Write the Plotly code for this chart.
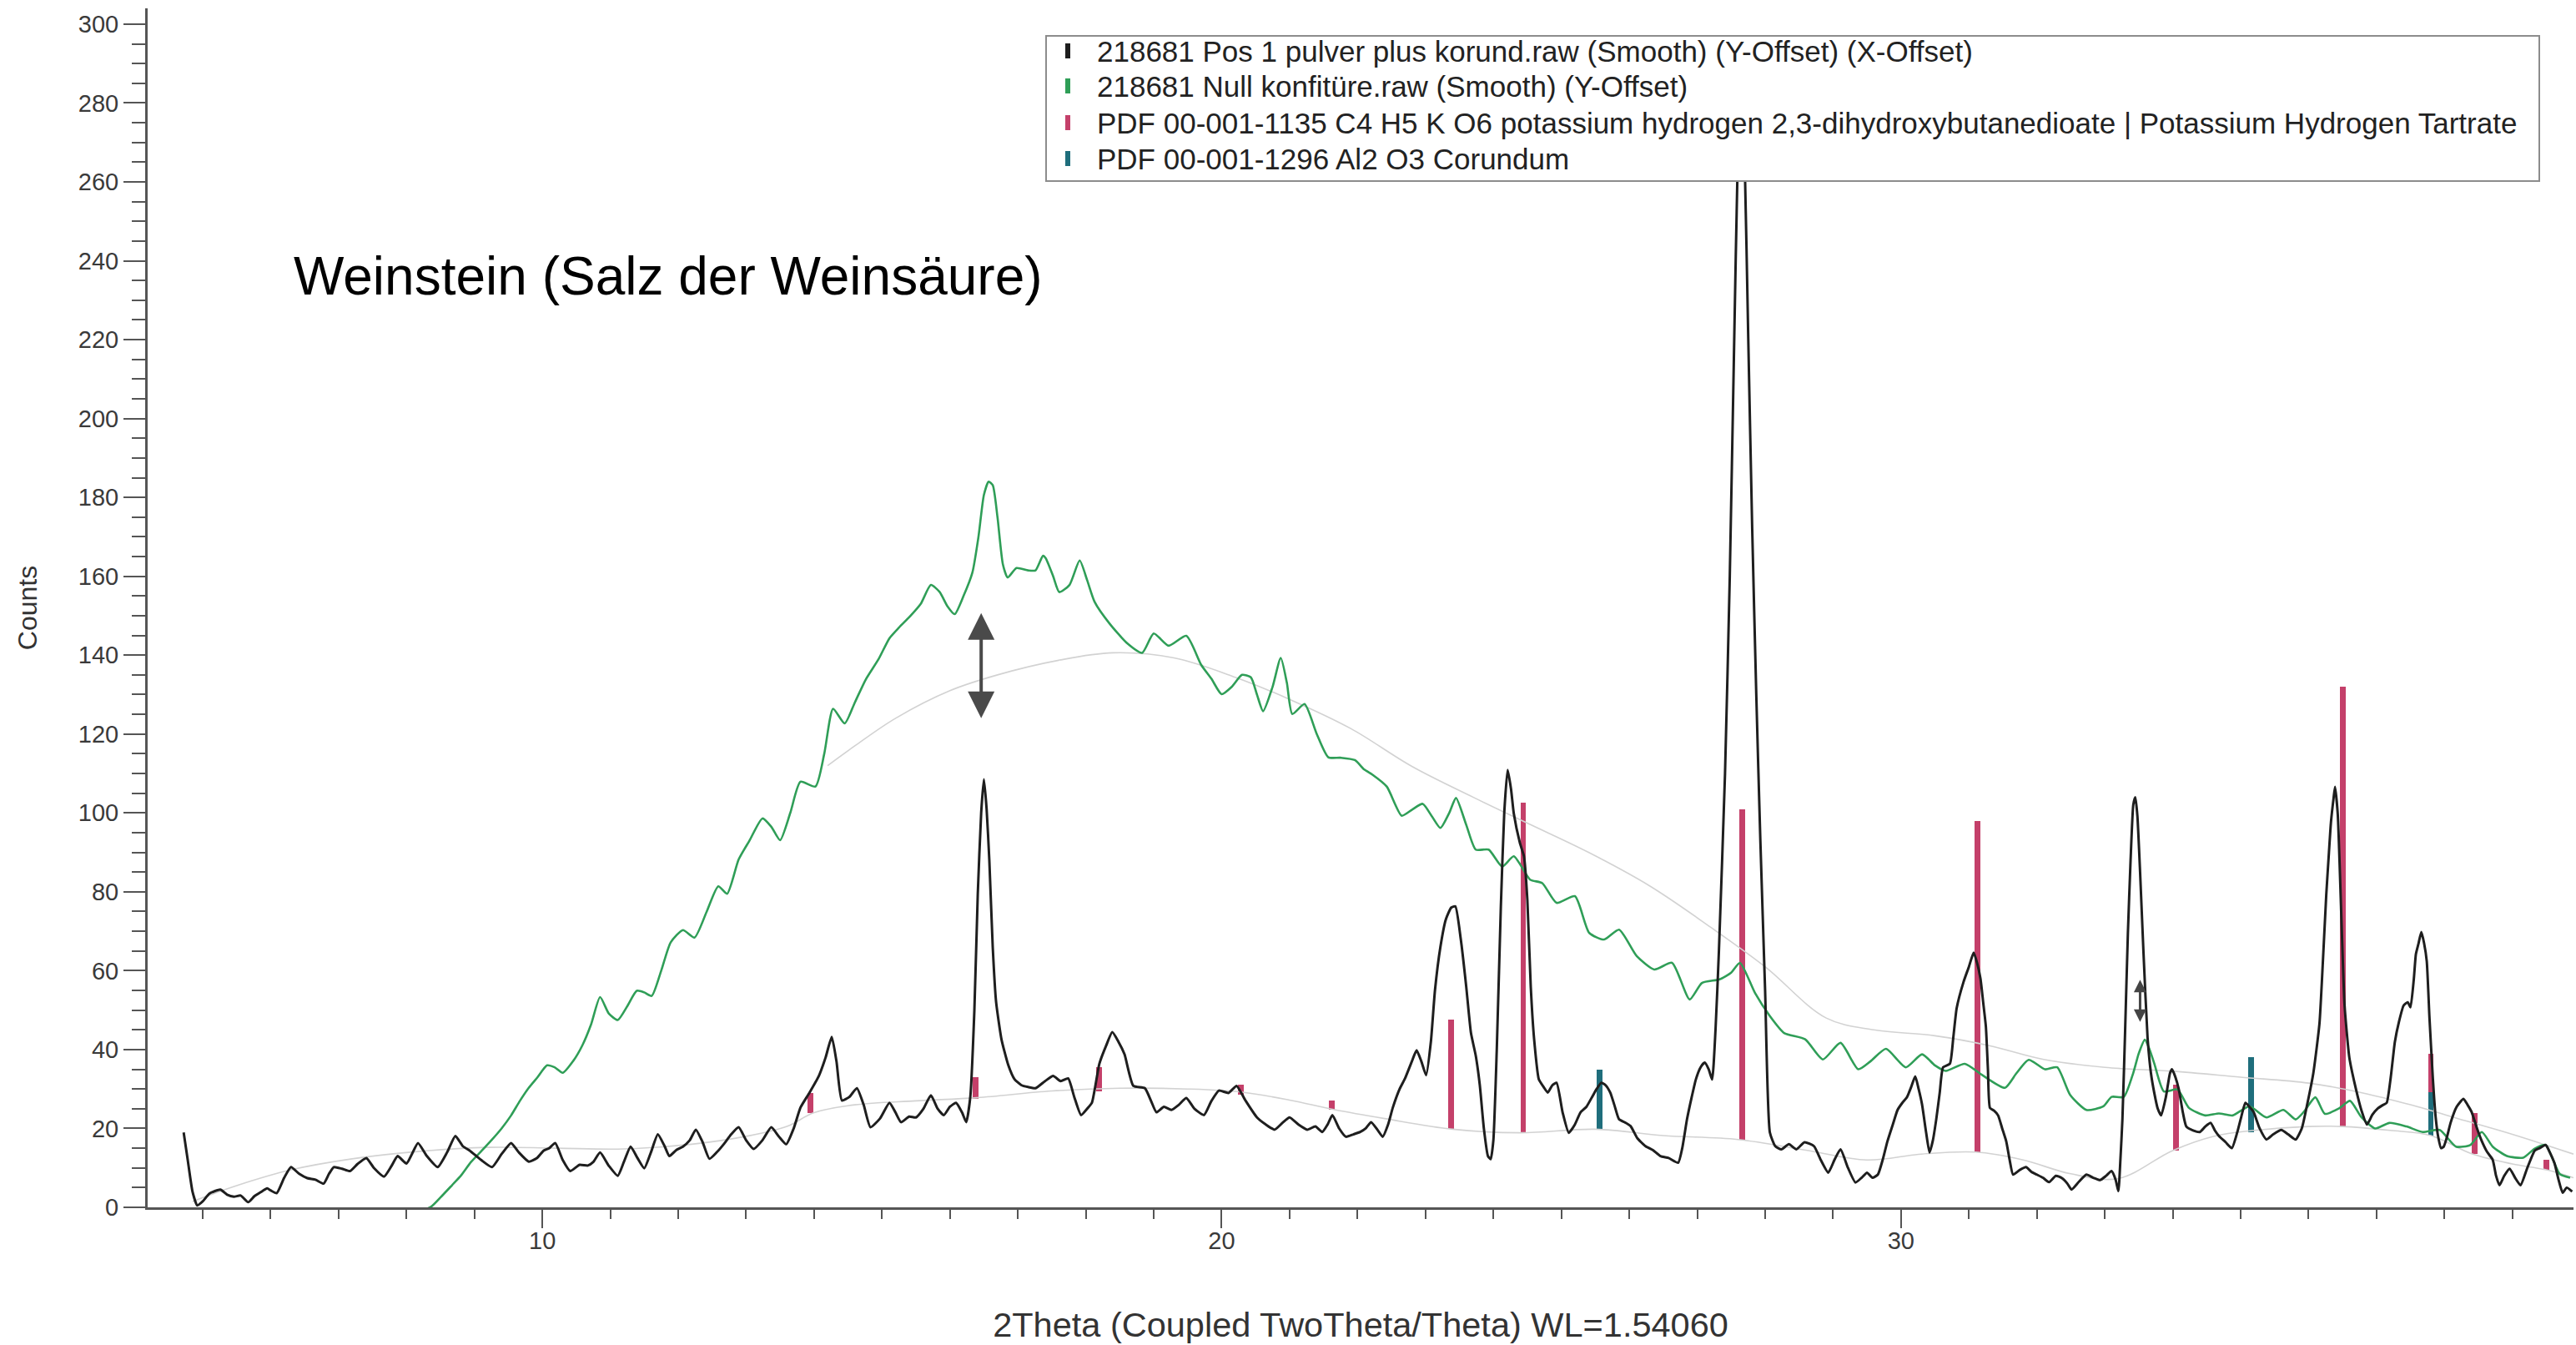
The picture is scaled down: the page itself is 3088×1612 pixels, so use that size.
import plotly.graph_objects as go

# ---- measured pattern: "Pos 1 pulver plus korund" (2Theta in degrees, counts) ----
black_2theta = [
    4.72, 4.78, 4.85, 4.92, 5.0, 5.1, 5.26, 5.36, 5.46, 5.56, 5.67, 5.76, 5.85, 5.95, 6.0, 6.09, 6.2, 6.30,
    6.42, 6.54, 6.66, 6.78, 6.86, 6.93, 7.05, 7.17, 7.28, 7.41, 7.52, 7.67, 7.78, 7.87, 8.0, 8.08, 8.17,
    8.30, 8.46, 8.60, 8.72, 8.83, 8.93, 9.10, 9.26, 9.40, 9.54, 9.65, 9.80, 9.92, 10.02, 10.10, 10.19,
    10.30, 10.41, 10.55, 10.67, 10.75, 10.85, 10.98, 11.11, 11.20, 11.30, 11.40, 11.50, 11.60, 11.70,
    11.80, 11.87, 11.97, 12.07, 12.17, 12.26, 12.36, 12.46, 12.57, 12.67, 12.78, 12.89, 13.00, 13.11,
    13.24, 13.37, 13.48, 13.59, 13.70, 13.80, 13.93, 14.07, 14.17, 14.26, 14.33, 14.41, 14.52, 14.63,
    14.73, 14.83, 14.97, 15.11, 15.20, 15.28, 15.40, 15.50, 15.61, 15.72, 15.82, 15.91, 16.00, 16.09,
    16.18, 16.24, 16.30, 16.36, 16.41, 16.46, 16.50, 16.54, 16.58, 16.63, 16.68, 16.76, 16.86, 16.95,
    17.05, 17.15, 17.26, 17.40, 17.52, 17.63, 17.74, 17.83, 17.93, 18.02, 18.09, 18.20, 18.30, 18.39,
    18.48, 18.57, 18.70, 18.87, 18.96, 19.04, 19.15, 19.26, 19.37, 19.48, 19.60, 19.74, 19.85, 19.96,
    20.10, 20.22, 20.35, 20.52, 20.65, 20.78, 20.90, 21.00, 21.13, 21.26, 21.38, 21.48, 21.56, 21.63,
    21.73, 21.83, 21.94, 22.04, 22.12, 22.20, 22.30, 22.37, 22.45, 22.52, 22.62, 22.70, 22.80, 22.87,
    22.94, 23.01, 23.08, 23.14, 23.22, 23.30, 23.38, 23.44, 23.52, 23.60, 23.67, 23.74, 23.80, 23.86,
    23.92, 23.96, 24.00, 24.05, 24.11, 24.16, 24.21, 24.26, 24.30, 24.39, 24.45, 24.50, 24.55, 24.60,
    24.67, 24.74, 24.80, 24.87, 24.93, 25.02, 25.11, 25.20, 25.28, 25.37, 25.46, 25.52, 25.59, 25.65,
    25.72, 25.78, 25.85, 25.94, 26.02, 26.12, 26.24, 26.35, 26.46, 26.58, 26.72, 26.78, 26.85, 26.92,
    26.98, 27.05, 27.11, 27.17, 27.22, 27.27, 27.32, 27.41, 27.48, 27.54, 27.60, 27.65, 27.70, 27.75,
    27.81, 27.87, 27.93, 28.00, 28.07, 28.15, 28.24, 28.35, 28.46, 28.58, 28.72, 28.82, 28.93, 29.02,
    29.11, 29.22, 29.33, 29.42, 29.50, 29.58, 29.66, 29.73, 29.80, 29.88, 29.95, 30.02, 30.09, 30.15,
    30.21, 30.26, 30.31, 30.37, 30.42, 30.47, 30.52, 30.57, 30.62, 30.72, 30.77, 30.82, 30.92, 31.00,
    31.07, 31.12, 31.17, 31.21, 31.25, 31.28, 31.31, 31.37, 31.43, 31.49, 31.55, 31.60, 31.65, 31.75,
    31.84, 31.92, 32.00, 32.09, 32.18, 32.28, 32.37, 32.45, 32.51, 32.62, 32.73, 32.83, 32.93, 33.02,
    33.10, 33.16, 33.20, 33.23, 33.26, 33.30, 33.34, 33.38, 33.42, 33.45, 33.48, 33.52, 33.57, 33.63,
    33.68, 33.73, 33.78, 33.83, 33.90, 33.96, 33.99, 34.04, 34.09, 34.15, 34.20, 34.30, 34.40, 34.48,
    34.56, 34.62, 34.68, 34.78, 34.87, 34.95, 35.01, 35.07, 35.13, 35.19, 35.28, 35.38, 35.48, 35.60,
    35.70, 35.81, 35.90, 35.98, 36.07, 36.16, 36.21, 36.26, 36.30, 36.33, 36.37, 36.39, 36.43, 36.48,
    36.53, 36.60, 36.70, 36.78, 36.86, 36.94, 37.02, 37.10, 37.15, 37.21, 37.27, 37.33, 37.40, 37.46,
    37.50, 37.55, 37.58, 37.62, 37.66, 37.70, 37.74, 37.78, 37.83, 37.87, 37.91, 37.95, 37.99, 38.04,
    38.09, 38.18, 38.28, 38.34, 38.40, 38.48, 38.55, 38.63, 38.71, 38.76, 38.81, 38.88, 38.96, 39.04,
    39.12, 39.22, 39.33, 39.40, 39.49, 39.55, 39.62, 39.68, 39.74, 39.80, 39.88,
]
black_counts = [
    19, 12, 4, 0.5, 1.5, 3.5, 4.5, 3.2, 2.7, 3.0, 1.3, 2.8, 3.8, 4.8, 4.3, 3.6, 7.5, 10.2,
    8.5, 7.4, 7.0, 6.0, 8.5, 10.2, 9.8, 9.2, 11.0, 12.5, 10.0, 7.8, 10.5, 13.0, 11.1, 13.5, 16.3,
    13.0, 10.2, 14.0, 18.1, 15.5, 14.4, 12.0, 10.2, 13.5, 16.3, 14.0, 11.6, 12.5, 14.4, 15.0, 16.3,
    12.0, 9.2, 10.8, 10.6, 11.5, 13.9, 10.5, 8.0, 11.5, 15.4, 12.5, 9.9, 14.0, 18.5,
    15.5, 13.0, 14.5, 15.4, 17.0, 19.7, 16.5, 12.3, 14.0, 16.0, 18.5, 20.3, 17.0, 14.8,
    17.0, 20.3, 18.0, 16.0, 20.0, 25.3, 29.0, 33.3, 38.0, 43.2, 37.0, 27.1, 28.0, 30.2,
    26.0, 20.3, 22.5, 26.5, 24.0, 21.6, 23.0, 22.8, 25.0, 28.4, 25.0, 23.4, 25.5, 26.5,
    24.0, 21.6, 28.0, 50.0, 79.5, 100.0, 108.5, 101.0, 88.0, 66.0, 52.0, 42.5, 36.0, 32.5,
    31.0, 30.5, 30.2, 32.0, 33.3, 32.0, 32.7, 28.0, 23.4, 25.0, 26.5, 36.4, 41.0, 44.4,
    42.0, 38.8, 30.8, 30.2, 27.0, 24.1, 25.5, 24.7, 26.0, 27.7, 25.0, 23.4, 27.0, 29.6,
    29.0, 30.8, 27.1, 22.8, 21.0, 19.7, 21.5, 22.8, 21.0, 19.7, 20.5, 19.1, 21.0, 23.4,
    20.0, 17.9, 18.5, 19.1, 20.0, 21.6, 19.5, 17.9, 21.0, 25.3, 30.0, 32.7, 37.0, 39.8,
    37.0, 33.5, 42.0, 55.0, 66.0, 73.0, 76.0, 76.3, 68.0, 56.0, 44.2, 38.5, 31.0, 20.0,
    13.0, 12.2, 17.0, 40.0, 76.3, 100.0, 110.9, 106.0, 99.9, 92.4, 89.0, 78.0, 56.0, 42.6,
    32.4, 30.5, 29.1, 31.0, 31.6, 24.0, 18.9, 21.0, 24.0, 25.5, 28.2, 30.0, 31.6, 31.0,
    29.1, 26.0, 22.3, 21.5, 20.6, 17.5, 15.5, 14.5, 13.0, 12.5, 11.3, 15.0, 22.3, 28.0,
    32.4, 35.5, 36.7, 35.0, 32.4, 45.0, 65.0, 110.0, 160.0, 215.0, 268.0, 290.0, 265.0, 222.0,
    172.0, 130.0, 93.0, 55.0, 19.0, 15.5, 14.7, 16.0, 14.7, 16.5, 15.5, 12.0, 8.8, 12.0,
    14.7, 10.0, 6.3, 7.5, 8.8, 7.5, 8.3, 12.0, 16.7, 21.0, 24.7, 26.5, 28.0, 30.5,
    33.2, 30.0, 26.1, 19.0, 13.9, 17.0, 22.4, 29.0, 35.5, 36.4, 43.0, 50.5, 57.1, 61.0,
    64.6, 62.0, 58.0, 52.0, 45.8, 35.0, 25.2, 24.5, 23.3, 20.0, 16.7, 12.0, 8.3, 9.5,
    10.2, 9.0, 8.3, 7.5, 6.4, 8.0, 7.4, 6.0, 4.5, 6.5, 8.3, 7.5, 6.9, 8.0,
    9.2, 7.0, 4.1, 12.0, 22.4, 45.0, 69.3, 88.0, 102.1, 104.0, 99.3, 85.0, 64.6, 43.0,
    34.0, 28.9, 25.0, 23.3, 28.0, 34.0, 35.0, 33.0, 29.9, 24.0, 20.5, 19.5, 19.1, 20.5,
    21.4, 19.5, 18.1, 16.5, 15.0, 19.0, 23.0, 26.5, 25.5, 24.2, 20.0, 17.2, 18.5, 19.6,
    18.5, 17.2, 20.0, 26.1, 34.0, 46.5, 62.0, 79.1, 90.0, 97.7, 104.0, 106.6, 99.6, 75.0,
    51.2, 38.0, 29.8, 24.5, 21.0, 23.5, 25.1, 26.0, 26.5, 33.0, 41.9, 47.0, 51.2, 52.0,
    50.7, 58.0, 64.2, 67.0, 69.8, 67.0, 62.4, 48.0, 32.6, 23.0, 17.7, 15.0, 15.4, 18.0,
    21.4, 25.5, 27.5, 26.0, 24.2, 20.0, 16.8, 14.0, 12.1, 8.0, 5.6, 8.0, 9.8, 7.5,
    5.6, 10.0, 14.4, 15.0, 15.8, 14.0, 11.2, 7.0, 3.7, 5.0, 4.0,
]

# ---- measured pattern: "Null konfitüre" ----
green_2theta = [
    7.90, 8.35, 8.50, 8.67, 8.80, 8.95, 9.11, 9.25, 9.40, 9.54, 9.67, 9.80, 9.93, 10.07, 10.18, 10.30,
    10.45, 10.59, 10.72, 10.85, 10.98, 11.11, 11.25, 11.39, 11.50, 11.61, 11.75, 11.89, 12.07, 12.24,
    12.42, 12.59, 12.72, 12.89, 13.05, 13.24, 13.37, 13.50, 13.65, 13.80, 14.02, 14.15, 14.28, 14.45,
    14.60, 14.76, 14.95, 15.11, 15.25, 15.41, 15.57, 15.72, 15.85, 15.96, 16.07, 16.20, 16.33, 16.42,
    16.50, 16.57, 16.63, 16.70, 16.78, 16.85, 16.98, 17.15, 17.26, 17.37, 17.41, 17.52, 17.61, 17.76,
    17.91, 18.02, 18.13, 18.35, 18.61, 18.83, 19.00, 19.22, 19.48, 19.70, 19.85, 20.00, 20.15, 20.30,
    20.43, 20.52, 20.61, 20.75, 20.87, 20.96, 21.04, 21.22, 21.40, 21.57, 21.75, 21.96, 22.10, 22.22,
    22.43, 22.65, 22.80, 22.96, 23.10, 23.22, 23.35, 23.45, 23.60, 23.74, 23.93, 24.13, 24.30, 24.54,
    24.72, 24.93, 25.20, 25.41, 25.63, 25.85, 26.11, 26.37, 26.63, 26.89, 27.07, 27.33, 27.50, 27.63,
    27.85, 28.07, 28.28, 28.59, 28.85, 29.11, 29.37, 29.55, 29.78, 30.07, 30.31, 30.50, 30.66, 30.94,
    31.19, 31.53, 31.70, 31.88, 32.12, 32.30, 32.49, 32.73, 32.98, 33.10, 33.28, 33.42, 33.50, 33.59,
    33.66, 33.73, 33.87, 34.07, 34.24, 34.48, 34.68, 34.88, 35.13, 35.38, 35.63, 35.81, 35.93, 36.10,
    36.24, 36.45, 36.61, 36.78, 36.98, 37.19, 37.44, 37.68, 37.93, 38.17, 38.38, 38.55, 38.71, 38.92,
    39.16, 39.33, 39.49, 39.60, 39.70, 39.85,
]
green_counts = [
    -2.0, 0.0, 2.5, 5.6, 8.0, 11.5, 14.4, 17.0, 20.0, 23.3, 27.0, 30.3, 33.0, 36.0, 35.5, 34.1,
    37.0, 41.1, 46.5, 53.3, 49.1, 47.5, 51.0, 54.9, 54.5, 53.6, 60.0, 67.2, 70.3, 68.4,
    75.0, 81.4, 79.5, 88.2, 93.0, 98.6, 96.5, 93.1, 100.0, 107.9, 106.7, 115.0, 126.4, 122.7,
    128.0, 133.8, 139.0, 144.3, 147.0, 149.8, 153.0, 157.8, 156.0, 152.5, 150.4, 155.0, 160.9, 170.0,
    180.6, 184.0, 183.1, 175.0, 163.0, 159.7, 162.1, 161.5, 161.5, 165.2, 164.6, 160.0, 156.0, 157.8,
    164.0, 159.0, 153.5, 148.0, 143.0, 140.6, 145.5, 142.4, 144.9, 137.5, 134.0, 130.1, 132.0, 135.0,
    134.4, 130.0, 125.8, 132.0, 139.3, 133.0, 125.1, 127.6, 120.0, 114.1, 114.0, 113.4, 111.0, 109.7,
    106.7, 99.3, 100.8, 102.3, 99.0, 96.2, 100.0, 103.8, 97.0, 90.7, 90.7, 86.4, 89.0, 83.1,
    82.2, 77.2, 78.9, 69.6, 67.9, 70.4, 63.7, 60.3, 62.0, 52.7, 56.9, 57.8, 59.5, 62.0,
    54.4, 48.5, 44.2, 42.6, 37.5, 41.7, 35.0, 37.0, 40.2, 35.5, 38.8, 36.0, 34.6, 36.4,
    33.6, 30.3, 34.0, 37.4, 35.0, 35.5, 28.5, 24.7, 25.6, 28.0, 28.0, 34.1, 39.0, 42.5,
    40.0, 36.4, 29.4, 29.9, 25.2, 23.3, 23.8, 23.3, 25.6, 22.8, 24.7, 22.3, 24.2, 27.9,
    23.7, 25.1, 27.0, 22.8, 20.0, 21.4, 20.5, 19.1, 19.6, 15.4, 15.8, 19.1, 15.4, 13.0,
    12.6, 14.9, 15.8, 12.0, 8.4, 7.5,
]

# ---- fitted backgrounds ----
bg_black_2theta = [
    4.85, 5.5, 6.3, 7.2, 8.2, 9.2, 10.2, 11.2, 12.2, 13.0, 13.6, 14.0, 14.6, 15.5, 16.4, 17.5, 18.5,
    19.5, 20.3, 21.0, 21.65, 22.4, 23.4, 24.4, 25.5, 26.5, 27.6, 28.6, 29.5, 30.3, 31.1, 31.8, 32.5,
    33.2, 34.0, 34.6, 35.2, 36.0, 36.5, 37.2, 37.8, 38.4, 39.0, 39.5, 39.9,
]
bg_black_counts = [
    1.5, 5.5, 9.5, 12.3, 14.2, 15.2, 15.0, 14.8, 16.0, 18.0, 20.5, 24.0, 26.0, 27.0, 27.8, 29.5, 30.2,
    30.0, 29.2, 27.2, 24.8, 22.5, 19.8, 18.9, 19.8, 18.2, 17.2, 14.5, 12.0, 13.5, 14.0, 12.0, 8.5,
    7.3, 14.4, 18.0, 19.5, 20.5, 20.5, 19.5, 18.2, 13.6, 11.0, 9.5, 7.5,
]
bg_green_2theta = [
    14.2, 14.6, 15.2, 16.0, 16.7, 17.6, 18.4, 19.3, 20.2, 21.0, 21.9, 22.8, 23.7, 24.5, 25.4, 26.3,
    27.2, 28.0, 28.9, 29.6, 30.5, 31.3, 32.1, 33.0, 34.0, 35.0, 36.0, 36.8, 37.5, 38.3, 39.0, 39.9,
]
bg_green_counts = [
    112.0, 117.0, 124.0, 131.0, 135.0, 138.7, 140.6, 139.3, 134.4, 128.8, 121.4, 111.8, 104.0, 97.4,
    90.0, 81.5, 71.0, 61.0, 48.0, 45.0, 43.5, 41.0, 37.5, 35.5, 34.5, 33.0, 31.5, 29.0, 26.0, 22.0,
    18.5, 13.5,
]

# ---- reference patterns (stick positions, stick foot on background, stick top) ----
tartrate_2theta = [13.95, 16.38, 18.20, 20.28, 21.62, 23.38, 24.44, 27.66, 31.13, 34.05, 36.50, 37.80, 38.45, 39.50]
tartrate_base = [24.0, 27.5, 29.5, 28.5, 24.7, 19.8, 18.9, 17.2, 14.0, 14.4, 20.5, 18.2, 13.5, 9.5]
tartrate_top = [29.0, 33.0, 35.5, 31.0, 27.1, 47.6, 102.5, 101.0, 98.0, 31.0, 132.0, 39.0, 24.0, 12.0]

corundum_2theta = [25.56, 35.15, 37.80]
corundum_base = [19.8, 19.0, 18.2]
corundum_top = [35.0, 38.0, 29.3]

legend_names = [
    "218681 Pos 1 pulver plus korund.raw (Smooth) (Y-Offset) (X-Offset)",
    "218681 Null konfitüre.raw (Smooth) (Y-Offset)",
    "PDF 00-001-1135 C4 H5 K O6 potassium hydrogen 2,3-dihydroxybutanedioate | Potassium Hydrogen Tartrate",
    "PDF 00-001-1296 Al2 O3 Corundum",
]

C_BLACK = "#1e1e1e"
C_GREEN = "#2f9e57"
C_RED = "#c4406a"
C_TEAL = "#1f6e7c"
C_BG = "#d2d2d2"
C_AXIS = "#555555"
FONT = "Liberation Sans, Arial, sans-serif"

# figure geometry (pixels)
W, H = 3088, 1612
M_L, M_R, M_T, M_B = 177, 3, 10, 165
PW, PH = W - M_L - M_R, H - M_T - M_B


def px_x(px):
    """Horizontal pixel position -> paper coordinate."""
    return (px - M_L) / PW


def px_y(py):
    """Vertical pixel position (from top) -> paper coordinate."""
    return (H - M_B - py) / PH


fig = go.Figure()

# background curves
fig.add_trace(go.Scatter(x=bg_black_2theta, y=bg_black_counts, mode="lines",
                         line=dict(color=C_BG, width=1.6, shape="spline"), showlegend=False))
fig.add_trace(go.Scatter(x=bg_green_2theta, y=bg_green_counts, mode="lines",
                         line=dict(color=C_BG, width=1.6, shape="spline"), showlegend=False))

# measured scans
fig.add_trace(go.Scatter(x=green_2theta, y=green_counts, mode="lines",
                         line=dict(color=C_GREEN, width=2.6, shape="spline", smoothing=0.6),
                         showlegend=False))
fig.add_trace(go.Scatter(x=black_2theta, y=black_counts, mode="lines",
                         line=dict(color=C_BLACK, width=3, shape="spline", smoothing=0.5),
                         showlegend=False))

# stick patterns from the powder diffraction files
fig.add_trace(go.Bar(x=tartrate_2theta,
                     y=[t - b for t, b in zip(tartrate_top, tartrate_base)],
                     base=tartrate_base, width=0.085, marker=dict(color=C_RED, line=dict(width=0)),
                     showlegend=False))
fig.add_trace(go.Bar(x=corundum_2theta,
                     y=[t - b for t, b in zip(corundum_top, corundum_base)],
                     base=corundum_base, width=0.085, marker=dict(color=C_TEAL, line=dict(width=0)),
                     showlegend=False))

# legend box drawn on top of the scans
shapes = [dict(type="rect", xref="paper", yref="paper", layer="above",
               x0=px_x(1254), x1=px_x(3044), y0=px_y(217), y1=px_y(43),
               fillcolor="white", line=dict(color="#8c8c8c", width=2))]
row_y = [61, 103, 147, 190]
for ry, col in zip(row_y, [C_BLACK, C_GREEN, C_RED, C_TEAL]):
    shapes.append(dict(type="line", xref="paper", yref="paper", layer="above",
                       x0=px_x(1280), x1=px_x(1280), y0=px_y(ry + 9), y1=px_y(ry - 9),
                       line=dict(color=col, width=6)))
for ry, name in zip(row_y, legend_names):
    fig.add_annotation(x=px_x(1313), y=px_y(ry), xref="paper", yref="paper",
                       xanchor="left", yanchor="middle", text=name, showarrow=False,
                       font=dict(family=FONT, size=35, color="#222222"))

# double-headed markers
fig.add_annotation(x=16.46, y=124, ax=16.46, ay=151, xref="x", yref="y", axref="x", ayref="y",
                   text="", showarrow=True, arrowside="end+start", arrowhead=2,
                   arrowsize=1.6, arrowwidth=4, arrowcolor="#4a4a4a")
fig.add_annotation(x=33.52, y=47, ax=33.52, ay=58, xref="x", yref="y", axref="x", ayref="y",
                   text="", showarrow=True, arrowside="end+start", arrowhead=2,
                   arrowsize=1.0, arrowwidth=3, arrowcolor="#444444")

# sample caption
fig.add_annotation(x=px_x(350), y=px_y(331), xref="paper", yref="paper", xanchor="left", yanchor="middle",
                   text="Weinstein (Salz der Weinsäure)", showarrow=False,
                   font=dict(family=FONT, size=64, color="#000000"))

fig.update_layout(
    width=W, height=H,
    margin=dict(l=M_L, r=M_R, t=M_T, b=M_B),
    paper_bgcolor="white", plot_bgcolor="white",
    barmode="overlay", bargap=0,
    showlegend=False,
    shapes=shapes,
    font=dict(family=FONT, color="#3a3a3a"),
)

fig.update_xaxes(
    range=[4.19, 39.9], showgrid=False, zeroline=False,
    showline=True, linecolor=C_AXIS, linewidth=3,
    ticks="outside", tickcolor=C_AXIS, tickwidth=2, ticklen=22,
    tick0=0, dtick=10, tickfont=dict(family=FONT, size=29, color="#3a3a3a"),
    ticklabelstandoff=-10,
    minor=dict(dtick=1, ticks="outside", ticklen=11, tickcolor=C_AXIS, tickwidth=2, showgrid=False),
    title=dict(text="2Theta (Coupled TwoTheta/Theta) WL=1.54060",
               font=dict(family=FONT, size=41.5, color="#333333"), standoff=72),
)
fig.update_yaxes(
    range=[0, 304], showgrid=False, zeroline=False,
    showline=True, linecolor=C_AXIS, linewidth=3,
    ticks="outside", tickcolor=C_AXIS, tickwidth=2, ticklen=26,
    tick0=0, dtick=20, tickfont=dict(family=FONT, size=29, color="#3a3a3a"),
    minor=dict(dtick=5, ticks="outside", ticklen=16, tickcolor=C_AXIS, tickwidth=2, showgrid=False),
    title=dict(text="Counts", font=dict(family=FONT, size=32, color="#333333"), standoff=40),
)

fig.write_html("out.html")
